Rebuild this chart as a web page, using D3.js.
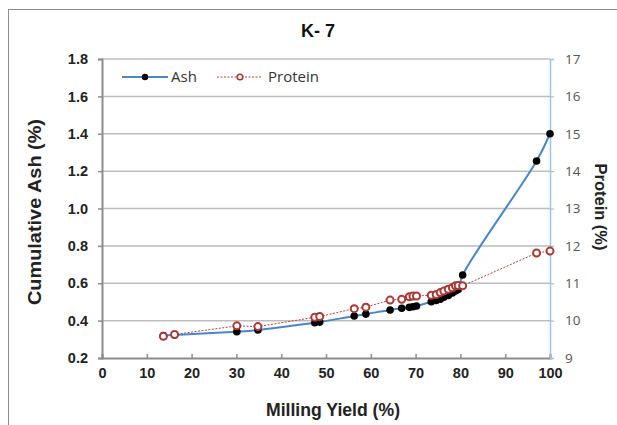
<!DOCTYPE html>
<html><head><meta charset="utf-8">
<script src="https://cdn.jsdelivr.net/npm/d3@7"></script>
<style>body{margin:0;background:#fff}svg{display:block}</style>
</head><body>
<svg id="c" width="617" height="425"></svg>
<script>
const yieldPct = [13.7, 16.2, 30.1, 34.8, 47.5, 48.6, 56.3, 58.9, 64.3, 66.9, 68.6, 69.4, 70.2, 73.5, 74.6, 75.5, 76.3, 77.3, 78.2, 78.9, 79.5, 80.5, 97.0, 100];
const ash = [0.320, 0.323, 0.341, 0.350, 0.389, 0.392, 0.425, 0.435, 0.457, 0.466, 0.471, 0.474, 0.478, 0.501, 0.508, 0.515, 0.525, 0.535, 0.548, 0.558, 0.566, 0.644, 1.254, 1.400];
const protein = [9.58, 9.63, 9.86, 9.84, 10.09, 10.11, 10.32, 10.36, 10.55, 10.57, 10.64, 10.66, 10.66, 10.68, 10.70, 10.75, 10.79, 10.84, 10.88, 10.93, 10.94, 10.93, 11.81, 11.86];
const xTicks = [0,10,20,30,40,50,60,70,80,90,100];
const ashTicks = [0.2,0.4,0.6,0.8,1.0,1.2,1.4,1.6,1.8];
const protTicks = [9,10,11,12,13,14,15,16,17];
const title = "K- 7";

const svg = d3.select("#c");
const L=102, R=550, T=59, B=358;
const x = d3.scaleLinear().domain([0,100]).range([L,R]);
const yA = d3.scaleLinear().domain([0.2,1.8]).range([B,T]);
const yP = d3.scaleLinear().domain([9,17]).range([B,T]);
const bold = "Liberation Sans, Arial, sans-serif";
const light = "Open Sans, Liberation Sans, sans-serif";

svg.append("rect").attr("x",8.5).attr("y",9.5).attr("width",700).attr("height",500)
  .attr("fill","none").attr("stroke","#8c8c8c").attr("stroke-width",1);

svg.append("g").selectAll("line").data(ashTicks.filter(d=>d>0.2)).join("line")
  .attr("x1",L).attr("x2",R).attr("y1",d=>yA(d)).attr("y2",d=>yA(d))
  .attr("stroke","#bdbdbd").attr("stroke-width",1.5);

const gl = svg.append("g").attr("transform",`translate(${L},0)`)
  .call(d3.axisLeft(yA).tickValues(ashTicks).tickFormat(d3.format(".1f")).tickSize(4).tickPadding(10));
gl.select(".domain").attr("stroke","#8c8c8c").attr("stroke-width",2);
gl.selectAll(".tick line").attr("stroke","#8c8c8c").attr("stroke-width",1.5);
gl.selectAll("text").attr("font-family",bold).attr("font-weight","bold").attr("font-size",14.5).attr("fill","#222");

const gb = svg.append("g").attr("transform",`translate(0,${B})`)
  .call(d3.axisBottom(x).tickValues(xTicks).tickSize(-4).tickPadding(10));
gb.select(".domain").attr("stroke","#8c8c8c").attr("stroke-width",2);
gb.selectAll(".tick line").attr("stroke","#8c8c8c").attr("stroke-width",1.5);
gb.selectAll("text").attr("font-family",bold).attr("font-weight","bold").attr("font-size",14.5).attr("fill","#222");

const gr = svg.append("g").attr("transform",`translate(${R},0)`)
  .call(d3.axisRight(yP).tickValues(protTicks).tickSize(4).tickPadding(11));
gr.select(".domain").attr("stroke","#9dc3e6").attr("stroke-width",1.5);
gr.selectAll(".tick line").attr("stroke","#9dc3e6").attr("stroke-width",1.2);
gr.selectAll("text").attr("font-family",light).attr("font-size",13.5).attr("fill","#555");

const lineP = d3.line().x((d,i)=>x(yieldPct[i])).y(d=>yP(d));
svg.append("path").attr("d",lineP(protein)).attr("fill","none")
  .attr("stroke","#b5413d").attr("stroke-width",1).attr("stroke-dasharray","2,1.5");

const lineA = d3.line().curve(d3.curveCatmullRom.alpha(0.5)).x((d,i)=>x(yieldPct[i])).y(d=>yA(d));
svg.append("path").attr("d",lineA(ash)).attr("fill","none").attr("stroke","#4a86c8").attr("stroke-width",2);

svg.append("g").selectAll("circle").data(ash).join("circle")
  .attr("cx",(d,i)=>x(yieldPct[i])).attr("cy",d=>yA(d)).attr("r",3.8).attr("fill","#000");
svg.append("g").selectAll("circle").data(protein).join("circle")
  .attr("cx",(d,i)=>x(yieldPct[i])).attr("cy",d=>yP(d)).attr("r",3.5)
  .attr("fill","#fff").attr("stroke","#a83a36").attr("stroke-width",2);

const lg = svg.append("g");
lg.append("line").attr("x1",122).attr("x2",168).attr("y1",77).attr("y2",77).attr("stroke","#4a86c8").attr("stroke-width",1.8);
lg.append("circle").attr("cx",145).attr("cy",77).attr("r",3.2).attr("fill","#000");
lg.append("text").attr("x",171).attr("y",82).text("Ash").attr("font-family",light).attr("font-size",15).attr("fill","#333");
lg.append("line").attr("x1",217).attr("x2",262).attr("y1",77).attr("y2",77).attr("stroke","#b5413d").attr("stroke-width",1).attr("stroke-dasharray","2,1.5");
lg.append("circle").attr("cx",240).attr("cy",77).attr("r",2.8).attr("fill","#fff").attr("stroke","#a83a36").attr("stroke-width",1.6);
lg.append("text").attr("x",268).attr("y",82).text("Protein").attr("font-family",light).attr("font-size",15).attr("fill","#333");

svg.append("text").attr("x",318).attr("y",37).attr("text-anchor","middle").text(title)
  .attr("font-family",bold).attr("font-weight","bold").attr("font-size",18).attr("fill","#111");
svg.append("text").attr("x",333).attr("y",416).attr("text-anchor","middle").text("Milling Yield (%)")
  .attr("textLength",134).attr("lengthAdjust","spacingAndGlyphs")
  .attr("font-family",bold).attr("font-weight","bold").attr("font-size",17.5).attr("fill","#222");
svg.append("text").attr("transform","translate(41,212) rotate(-90)").attr("text-anchor","middle").text("Cumulative Ash (%)")
  .attr("textLength",186).attr("lengthAdjust","spacingAndGlyphs")
  .attr("font-family",bold).attr("font-weight","bold").attr("font-size",18).attr("fill","#222");
svg.append("text").attr("transform","translate(595,207) rotate(90)").attr("text-anchor","middle").text("Protein (%)")
  .attr("textLength",87).attr("lengthAdjust","spacingAndGlyphs")
  .attr("font-family",bold).attr("font-weight","bold").attr("font-size",17).attr("fill","#222");
</script>
</body></html>
